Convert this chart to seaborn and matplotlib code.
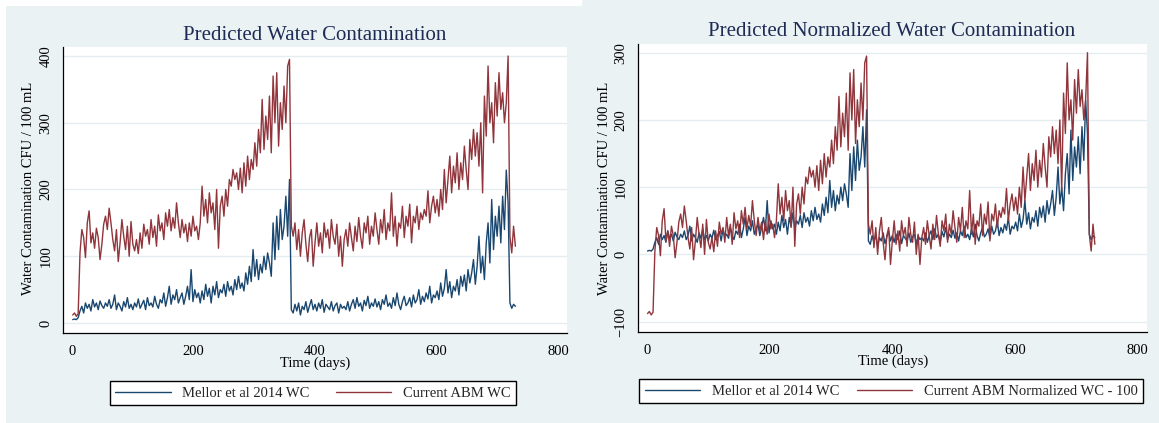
import numpy as np
import pandas as pd
import matplotlib
matplotlib.use("Agg")
import matplotlib.pyplot as plt
from matplotlib.lines import Line2D
from matplotlib.patches import Rectangle
import seaborn as sns

# ---------------- data (every 3rd day) ----------------
days = np.arange(1, 731, 3)

abm_wc = (
    [12, 15, 10, 14]
    + [105, 140, 128, 98, 150, 168, 120, 135, 112, 142, 128, 95, 118, 148, 160, 140]
    + [172, 150, 125, 108, 140, 92, 120, 155, 130, 110, 145, 100, 152, 118]
    + [108, 125, 104, 135, 112, 148, 130, 140, 118, 155, 128, 145, 115, 162, 138]
    + [150, 125, 165, 145, 170, 138, 158, 142, 180, 150, 128]
    + [155, 135, 148, 122, 150, 130, 160, 138, 145, 125, 150]
    + [205, 160, 185, 150, 195, 165, 180, 140, 200, 112, 175]
    + [190, 160, 200, 175, 215, 205, 230, 215, 225, 200, 232]
    + [195, 240, 205, 250, 215, 245, 230]
    + [270, 235, 290, 255, 335, 260, 310, 275]
    + [340, 255, 370, 300, 375, 265, 330, 290]
    + [355, 300, 385, 395]
    + [145]
    + [130, 150, 110, 140, 100, 135, 155, 118, 92, 128, 140, 85, 120]
    + [150, 115, 135, 105, 150, 128, 140, 112, 155, 130, 118, 148, 100, 130, 85, 125]
    + [140, 115, 150, 128, 108, 145, 122, 158, 130, 112, 150, 135, 160, 118, 145, 130, 165]
    + [140, 118, 155, 135, 170, 125, 150, 138, 195, 130, 160, 115, 150, 142, 175, 128, 160]
    + [145, 178, 120, 160, 150, 175, 140, 165, 155, 170, 160, 198, 150, 175, 190, 165]
    + [185, 160, 200, 170, 230, 180, 215, 250, 195, 235, 210, 255, 200, 240]
    + [215, 265, 230, 200, 275, 245, 290, 250, 285, 235]
    + [300, 195, 340, 280, 385, 300, 330, 270, 360, 310]
    + [375, 320, 345, 300, 330, 400]
    + [130, 105, 145, 115]
)

mellor_wc = (
    [5, 6, 5, 8]
    + [18, 25, 15, 30, 22, 28, 18, 35, 24, 30, 20, 33, 26, 22, 30, 25]
    + [35, 22, 28, 42, 20, 30, 25, 18, 32, 24, 38, 22, 28, 20]
    + [30, 24, 36, 22, 28, 34, 20, 38, 26, 30, 24, 40, 28, 22, 35]
    + [30, 45, 25, 38, 55, 28, 42, 35, 50, 30, 38]
    + [45, 28, 40, 55, 35, 80, 32, 50, 38, 45, 30]
    + [48, 35, 58, 40, 52, 30, 55, 42, 62, 38, 50]
    + [45, 58, 40, 62, 48, 55, 42, 65, 50, 70, 52]
    + [60, 48, 75, 58, 85, 62, 110]
    + [70, 95, 65, 88, 75, 100, 80, 105]
    + [90, 70, 150, 95, 160, 110, 170, 125]
    + [145, 190, 130, 215]
    + [20]
    + [15, 28, 18, 30, 12, 25, 20, 32, 16, 26, 35, 20, 28]
    + [18, 30, 22, 35, 16, 28, 24, 20, 32, 18, 26, 30, 15, 28, 22, 25]
    + [20, 32, 18, 28, 35, 22, 38, 25, 30, 18, 34, 26, 40, 22, 30, 25, 36]
    + [24, 32, 20, 35, 28, 42, 25, 30, 22, 38, 26, 45, 28, 20, 32, 40, 26]
    + [30, 38, 24, 42, 30, 35, 50, 28, 40, 32, 45, 36, 55, 30, 42, 38]
    + [48, 35, 60, 40, 52, 80, 45, 62, 38, 55, 48, 65, 42, 70]
    + [55, 72, 48, 80, 60, 75, 95, 58, 85, 130]
    + [75, 100, 65, 120, 150, 90, 185, 110, 160, 130]
    + [175, 120, 190, 140, 229, 180]
    + [30, 22, 28, 25]
)

norm_offset = 100  # "Current ABM Normalized WC - 100"

x_ticks = [0, 200, 400, 600, 800]
y_ticks_left = [0, 100, 200, 300, 400]
y_ticks_right = [-100, 0, 100, 200, 300]

titles = ["Predicted Water Contamination", "Predicted Normalized Water Contamination"]
y_label = "Water Contamination CFU / 100 mL"
x_label = "Time (days)"
legend_left = ["Mellor et al 2014 WC", "Current ABM WC"]
legend_right = ["Mellor et al 2014 WC", "Current ABM Normalized WC - 100"]

assert len(abm_wc) == len(days) and len(mellor_wc) == len(days)

df = pd.DataFrame({
    "day": days,
    "mellor": mellor_wc,
    "abm": abm_wc,
})
df["abm_norm"] = df["abm"] - norm_offset

# ---------------- style ----------------
sns.set_style("white")
plt.rcParams["font.family"] = ["Liberation Serif", "DejaVu Serif"]

BG = "#eaf2f3"
GRID = "#e4eef0"
BLUE = "#1a476f"
RED = "#90353b"
TITLE_C = "#1e2b55"

W, H = 1159, 423
fig = plt.figure(figsize=(W / 100, H / 100), dpi=100, facecolor=BG)

# white margin strips of the left picture
fig.patches.append(Rectangle((0, 0), 6 / W, 1, transform=fig.transFigure,
                             facecolor="white", edgecolor="none", zorder=-10))
fig.patches.append(Rectangle((0, 1 - 6 / H), 582 / W, 6 / H, transform=fig.transFigure,
                             facecolor="white", edgecolor="none", zorder=-10))

ax1 = fig.add_axes([63 / W, (H - 333) / H, 504 / W, 286 / H])
ax2 = fig.add_axes([637.7 / W, (H - 331.7) / H, 509.3 / W, 287.7 / H])

panels = [
    (ax1, "abm", (-15, 413.5), y_ticks_left),
    (ax2, "abm_norm", (-115, 313), y_ticks_right),
]

for ax, red_col, ylim, yticks in panels:
    ax.set_facecolor("white")
    sns.lineplot(data=df, x="day", y="mellor", ax=ax, color=BLUE, lw=1.0,
                 estimator=None, legend=False)
    sns.lineplot(data=df, x="day", y=red_col, ax=ax, color=RED, lw=1.0,
                 estimator=None, legend=False)
    ax.set_xlim(-15, 815)
    ax.set_ylim(*ylim)
    ax.set_xticks(x_ticks)
    ax.set_yticks(yticks)
    ax.set_xlabel("")
    ax.set_ylabel("")
    ax.grid(axis="y", color=GRID, lw=1.0)
    ax.grid(axis="x", visible=False)
    ax.set_axisbelow(True)
    for s in ["top", "right"]:
        ax.spines[s].set_visible(False)
    for s in ["left", "bottom"]:
        ax.spines[s].set_color("black")
        ax.spines[s].set_linewidth(0.9)
    ax.tick_params(axis="both", direction="out", length=4.5, width=0.8,
                   color="black", labelsize=10.5, labelcolor="black", pad=4)
    ax.tick_params(axis="y", labelrotation=90, pad=3)
    for lab in ax.get_yticklabels():
        lab.set_va("center")

# titles and axis titles
fig.text(315 / W, 1 - 35 / H, titles[0], ha="center", va="center",
         fontsize=15, color=TITLE_C)
fig.text(892 / W, 1 - 32 / H, titles[1], ha="center", va="center",
         fontsize=15, color=TITLE_C)

fig.text(29 / W, 1 - 188 / H, y_label, rotation=90, ha="center", va="center",
         fontsize=10.5, color="black")
fig.text(604 / W, 1 - 188 / H, y_label, rotation=90, ha="center", va="center",
         fontsize=10.5, color="black")

fig.text(315 / W, 1 - 363 / H, x_label, ha="center", va="center",
         fontsize=10.5, color="black")
fig.text(893 / W, 1 - 361 / H, x_label, ha="center", va="center",
         fontsize=10.5, color="black")

# legends
def add_legend(labels, cx, cy, colsp):
    handles = [Line2D([], [], color=BLUE, lw=1.0), Line2D([], [], color=RED, lw=1.0)]
    leg = fig.legend(handles, labels, loc="center", bbox_to_anchor=(cx, cy),
                     bbox_transform=fig.transFigure, ncol=2, frameon=True,
                     fancybox=False, edgecolor="black", facecolor="white",
                     framealpha=1, fontsize=10.5, handlelength=3.8,
                     handletextpad=0.8, columnspacing=colsp, borderpad=0.35,
                     borderaxespad=0)
    leg.get_frame().set_linewidth(1.0)
    return leg

add_legend(legend_left, 313 / W, 1 - 393 / H, 1.8)
add_legend(legend_right, 891 / W, 1 - 391 / H, 1.2)

fig.savefig("out.png", dpi=100, facecolor=BG)
